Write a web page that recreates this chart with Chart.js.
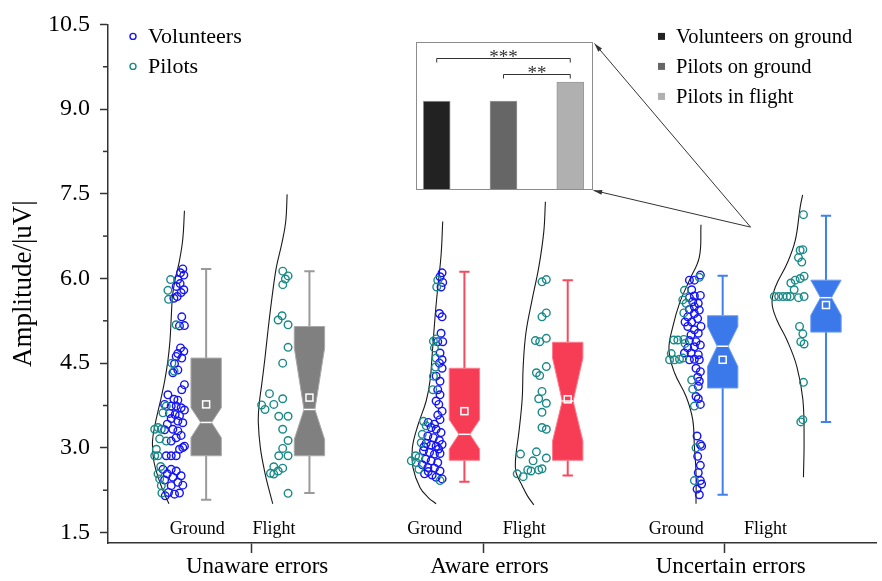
<!DOCTYPE html>
<html><head><meta charset="utf-8">
<script src="https://cdn.jsdelivr.net/npm/chart.js@4.4.1/dist/chart.umd.min.js"></script>
<style>
html,body{margin:0;padding:0;background:#fff;}
#wrap{position:relative;width:882px;height:581px;overflow:hidden;}
#main{position:absolute;left:0;top:0;}
#inset{position:absolute;left:0;top:0;}
</style></head><body>
<div id="wrap"><canvas id="main" width="882" height="581"></canvas><canvas id="inset" width="10" height="10"></canvas></div>
<script>
// ---------------- DATA ----------------
const groupNames = ['Unaware errors', 'Aware errors', 'Uncertain errors'];
const groupTickPos = [1.385, 3.635, 5.97];
const conditionNames = ['Ground', 'Flight', 'Ground', 'Flight', 'Ground', 'Flight'];
const conditionLabelPos = [0.865, 1.606, 3.163, 4.03, 5.5, 6.365];
const yTicks = [1.5, 3.0, 4.5, 6.0, 7.5, 9.0, 10.5];
const yMinorTicks = [2.25, 3.75, 5.25, 6.75, 8.25, 9.75];

// box plot summary per condition (Unaware G/F, Aware G/F, Uncertain G/F)
const boxPos      = [0.95, 1.95, 3.45, 4.45, 5.95, 6.95];
const whiskerLow  = [2.08, 2.20, 2.40, 2.51, 2.17, 3.46];
const q1          = [2.86, 2.86, 2.78, 2.78, 4.06, 5.05];
const notchLow    = [3.18, 3.15, 2.98, 3.12, 4.44, 5.35];
const median      = [3.45, 3.68, 3.24, 3.83, 4.80, 5.66];
const notchHigh   = [3.71, 4.77, 3.50, 4.59, 5.15, 5.97];
const q3          = [4.59, 5.15, 4.41, 4.87, 5.34, 5.97];
const whiskerHigh = [6.17, 6.13, 6.12, 5.97, 6.05, 7.11];
const meanValue   = [3.77, 3.89, 3.65, 3.86, 4.56, 5.53];
const boxFill     = ['#808080','#808080','#f73d55','#f73d55','#3b78ea','#3b78ea'];
const boxEdge     = ['#a9a9a9','#a9a9a9','#ff7d8c','#ff7d8c','#6e9df2','#6e9df2'];
const whiskerCol  = ['#9a9a9a','#9a9a9a','#f8495f','#f8495f','#3f82ee','#3f82ee'];

// individual subjects [x jitter, amplitude]
const unawareGroundVolunteers = [[.724,6.17],[.702,6.10],[.734,6.06],[.676,5.98],[.698,5.91],[.66,5.86],[.734,5.80],[.708,5.75],[.67,5.68],[.638,5.65],
 [.714,5.32],[.692,5.16],[.74,5.165],[.702,4.77],[.734,4.71],[.676,4.67],[.66,4.62],[.714,4.59],[.644,4.49],[.676,4.38],[.628,4.33],
 [.74,4.12],[.714,4.03],[.58,3.94],[.638,3.86],[.676,3.845],[.548,3.77],[.612,3.74],[.66,3.74],[.708,3.71],[.74,3.67],[.596,3.61],[.65,3.59],
 [.692,3.57],[.612,3.52],[.676,3.475],[.724,3.445],[.574,3.42],[.628,3.33],[.676,3.30],[.548,3.32],[.708,3.22],[.66,3.18],[.612,3.12],
 [.724,3.005],[.74,3.03],[.692,2.975],[.66,2.86],[.564,2.86],[.612,2.86],[.532,2.62],[.612,2.62],[.66,2.59],[.574,2.54],[.708,2.506],
 [.628,2.48],[.548,2.43],[.676,2.39],[.724,2.34],[.612,2.33],[.586,2.21],[.644,2.18],[.692,2.20],[.554,2.15]];
const unawareGroundPilots = [[.606,5.98],[.58,5.79],[.586,5.63],[.66,5.18],[.618,4.50],[.64,4.36],[.564,3.74],[.532,3.62],[.484,3.36],[.516,3.33],
 [.452,3.33],[.50,3.16],[.564,3.12],[.468,2.975],[.452,2.86],[.484,2.86],[.51,2.67],[.484,2.54],[.5,2.45],[.516,2.33],[.522,2.20]];
const unawareFlightPilots = [[1.692,6.13],[1.743,6.045],[1.717,5.99],[1.692,5.89],[1.685,5.34],[1.647,5.265],[1.743,5.18],[1.743,4.78],[1.691,4.50],
 [1.563,3.96],[1.691,3.87],[1.487,3.76],[1.605,3.77],[1.52,3.68],[1.653,3.56],[1.743,3.56],[1.691,3.33],[1.743,3.13],[1.691,2.99],[1.653,2.86],
 [1.743,2.86],[1.605,2.665],[1.647,2.59],[1.691,2.64],[1.573,2.55],[1.605,2.535],[1.743,2.195]];
const awareGroundVolunteers = [[3.234,6.10],[3.214,6.03],[3.24,5.93],[3.224,5.85],[3.208,5.38],[3.234,5.32],[3.224,5.03],[3.24,4.88],[3.192,4.88],
 [3.214,4.68],[3.234,4.56],[3.208,4.50],[3.234,4.41],[3.176,4.27],[3.214,4.18],[3.192,4.03],[3.214,3.94],[3.176,3.83],[3.202,3.77],[3.234,3.65],
 [3.192,3.58],[3.214,3.50],[3.10,3.45],[3.16,3.42],[3.128,3.36],[3.176,3.33],[3.224,3.27],[3.096,3.21],[3.15,3.18],[3.208,3.13],[3.08,3.08],
 [3.128,3.05],[3.176,3.03],[3.234,3.06],[3.06,3.02],[3.2,2.98],[3.054,2.95],[3.112,2.92],[3.16,2.89],[3.214,2.90],[3.074,2.80],[3.128,2.77],
 [3.192,2.74],[3.042,2.70],[3.096,2.65],[3.16,2.64],[3.214,2.59],[3.1,2.58],[3.064,2.54],[3.138,2.52],[3.234,2.45],[3.176,2.48]];
const awareGroundPilots = [[3.192,5.97],[3.182,5.85],[3.15,4.89],[3.176,4.93],[3.16,4.77],[3.176,4.59],[3.17,4.43],[3.15,4.27],[3.144,4.03],
 [3.054,3.47],[3.08,3.39],[3.042,3.24],[3.032,3.09],[2.978,2.86],[3.01,2.83],[2.936,2.77],[2.984,2.74],[3.01,2.62],[3.214,2.42]];
const awareFlightPilots = [[4.243,5.98],[4.201,5.94],[4.243,5.39],[4.201,5.32],[4.137,4.90],[4.179,4.88],[4.243,4.94],[4.147,4.33],[4.179,4.28],
 [4.243,4.44],[4.201,4.00],[4.169,3.87],[4.243,3.79],[4.201,3.63],[4.201,3.36],[4.243,3.33],[3.993,2.89],[4.147,2.93],[4.115,2.77],[4.243,2.82],
 [3.961,2.54],[4.019,2.49],[4.063,2.61],[4.095,2.59],[4.169,2.61],[4.201,2.63]];
const uncertainGroundVolunteers = [[5.734,6.06],[5.676,5.97],[5.628,5.97],[5.65,5.80],[5.676,5.69],[5.734,5.70],[5.628,5.66],[5.66,5.59],[5.714,5.56],
 [5.676,5.50],[5.628,5.45],[5.724,5.44],[5.676,5.38],[5.612,5.32],[5.708,5.29],[5.586,5.23],[5.65,5.23],[5.74,5.15],[5.612,5.15],[5.676,5.09],
 [5.714,5.03],[5.644,5.00],[5.628,4.90],[5.692,4.88],[5.734,4.82],[5.612,4.77],[5.676,4.79],[5.58,4.68],[5.644,4.68],[5.714,4.65],[5.628,4.56],
 [5.676,4.57],[5.724,4.56],[5.692,4.41],[5.734,4.35],[5.708,4.25],[5.724,4.18],[5.714,4.09],[5.692,3.91],[5.714,3.87],[5.734,3.77],[5.702,3.21],
 [5.734,3.06],[5.746,3.03],[5.708,2.85],[5.734,2.69],[5.714,2.56],[5.734,2.42],[5.702,2.27],[5.724,2.17],[5.746,2.36]];
const uncertainGroundPilots = [[5.724,6.02],[5.58,5.79],[5.564,5.62],[5.596,5.56],[5.574,5.39],[5.478,4.91],[5.516,4.91],[5.574,4.92],[5.586,4.85],
 [5.452,4.67],[5.436,4.56],[5.484,4.56],[5.532,4.57],[5.564,4.59],[5.65,4.20],[5.66,4.04],[5.676,3.74],[5.692,3.00],[5.676,2.42]];
const uncertainFlightPilots = [[6.732,7.13],[6.726,6.51],[6.7,6.50],[6.684,6.37],[6.716,6.29],[6.738,6.04],[6.7,6.00],[6.652,5.97],[6.61,5.92],
 [6.642,5.80],[6.45,5.68],[6.492,5.68],[6.534,5.68],[6.572,5.68],[6.604,5.68],[6.684,5.66],[6.738,5.68],[6.694,5.15],[6.726,5.02],[6.738,4.84],
 [6.706,4.88],[6.732,4.16],[6.726,3.50],[6.706,3.46]];

// half-violin density outlines [x, amplitude]
const unawareGroundCurve = [[.740,7.20],[.724,6.70],[.69,6.30],[.652,6.0],[.625,5.7],[.612,5.3],[.60,4.9],[.58,4.55],[.55,4.2],[.51,3.85],[.46,3.45],[.43,3.1],[.445,2.75],[.50,2.40],[.55,2.17],[.59,2.01]];
const unawareFlightCurve = [[1.734,7.49],[1.72,7.0],[1.68,6.6],[1.63,6.2],[1.59,5.7],[1.55,5.1],[1.52,4.6],[1.49,4.15],[1.462,3.75],[1.455,3.45],[1.475,3.0],[1.52,2.55],[1.56,2.25],[1.595,2.01]];
const awareGroundCurve = [[3.24,7.01],[3.224,6.41],[3.19,5.8],[3.165,5.3],[3.14,4.7],[3.118,4.2],[3.08,3.83],[3.0,3.40],[2.946,3.0],[2.952,2.65],[3.02,2.30],[3.10,2.12],[3.176,2.01]];
const awareFlightCurve = [[4.234,7.36],[4.218,6.82],[4.17,6.2],[4.105,5.62],[4.045,5.03],[4.019,4.44],[4.009,3.86],[3.977,3.27],[3.945,2.80],[3.95,2.56],[4.009,2.33],[4.06,2.15],[4.122,1.99]];
const uncertainGroundCurve = [[5.74,6.95],[5.724,6.38],[5.628,5.97],[5.532,5.56],[5.468,5.15],[5.43,4.74],[5.484,4.33],[5.596,3.91],[5.66,3.50],[5.676,3.03],[5.692,2.56],[5.692,2.01]];
const uncertainFlightCurve = [[6.724,7.48],[6.70,7.26],[6.652,6.67],[6.572,6.26],[6.46,5.85],[6.428,5.56],[6.476,5.26],[6.572,4.91],[6.668,4.44],[6.726,3.86],[6.738,3.15],[6.732,2.48]];

// inset bar chart
const insetCategories = ['Volunteers on ground', 'Pilots on ground', 'Pilots in flight'];
const insetValues = [6.0, 6.0, 7.3];
const insetColors = ['#222222', '#666666', '#b0b0b0'];
const insetSig = [{from:0, to:2, level:8.93, label:'***'}, {from:1, to:2, level:7.81, label:'**'}];
const groupLegend = ['Volunteers', 'Pilots'];

// layout constants (not data)
const insetBox = {xMin:2.985, xMax:4.69, yMin:7.56, yMax:10.18};
const arrowApex = {x:6.22, y:6.91};
const boxWidth = 0.294, capWidth = 0.1, notchDepth = 0.32;
const FONT = "'Liberation Serif','Times New Roman',serif";
const COL_VOL = '#1414f5', COL_PIL = '#1a8a88';

const toPts = a => a.map(p => ({x:p[0], y:p[1]}));
const curveDs = c => ({data: toPts(c), showLine:true, pointRadius:0, borderColor:'#1a1a1a', borderWidth:1.1, tension:0.4, order:5, fill:false});

const volunteers = [].concat(unawareGroundVolunteers, awareGroundVolunteers, uncertainGroundVolunteers);
const pilots = [].concat(unawareGroundPilots, unawareFlightPilots, awareGroundPilots, awareFlightPilots, uncertainGroundPilots, uncertainFlightPilots);

const boxPlugin = {
  id: 'boxes',
  afterDatasetsDraw(chart) {
    const {ctx, scales:{x, y}} = chart;
    ctx.save();
    boxPos.forEach((cx, i) => {
      const px = x.getPixelForValue(cx);
      const L = x.getPixelForValue(cx - boxWidth/2), R = x.getPixelForValue(cx + boxWidth/2);
      const inset = (R - L) * notchDepth;
      const cL = x.getPixelForValue(cx - capWidth/2), cR = x.getPixelForValue(cx + capWidth/2);
      // whiskers
      ctx.strokeStyle = whiskerCol[i]; ctx.lineWidth = 2;
      ctx.beginPath();
      ctx.moveTo(px, y.getPixelForValue(q3[i])); ctx.lineTo(px, y.getPixelForValue(whiskerHigh[i]));
      ctx.moveTo(cL, y.getPixelForValue(whiskerHigh[i])); ctx.lineTo(cR, y.getPixelForValue(whiskerHigh[i]));
      ctx.moveTo(px, y.getPixelForValue(q1[i])); ctx.lineTo(px, y.getPixelForValue(whiskerLow[i]));
      ctx.moveTo(cL, y.getPixelForValue(whiskerLow[i])); ctx.lineTo(cR, y.getPixelForValue(whiskerLow[i]));
      ctx.stroke();
      // notched box
      const yq3 = y.getPixelForValue(q3[i]), ynh = y.getPixelForValue(notchHigh[i]), ym = y.getPixelForValue(median[i]);
      const ynl = y.getPixelForValue(notchLow[i]), yq1 = y.getPixelForValue(q1[i]);
      ctx.beginPath();
      ctx.moveTo(L, yq3); ctx.lineTo(R, yq3); ctx.lineTo(R, ynh); ctx.lineTo(R - inset, ym); ctx.lineTo(R, ynl);
      ctx.lineTo(R, yq1); ctx.lineTo(L, yq1); ctx.lineTo(L, ynl); ctx.lineTo(L + inset, ym); ctx.lineTo(L, ynh); ctx.closePath();
      ctx.fillStyle = boxFill[i]; ctx.fill();
      ctx.strokeStyle = boxEdge[i]; ctx.lineWidth = 1; ctx.stroke();
      // median
      ctx.strokeStyle = '#ffffff'; ctx.lineWidth = 1.5;
      ctx.beginPath(); ctx.moveTo(L + inset, ym); ctx.lineTo(R - inset, ym); ctx.stroke();
      // mean
      const my = y.getPixelForValue(meanValue[i]);
      ctx.lineWidth = 1.5; ctx.strokeRect(px - 3.5, my - 3.5, 7, 7);
    });
    // condition labels
    ctx.fillStyle = '#000'; ctx.font = '18px ' + FONT; ctx.textAlign = 'center'; ctx.textBaseline = 'middle';
    conditionNames.forEach((t, i) => ctx.fillText(t, x.getPixelForValue(conditionLabelPos[i]), y.getPixelForValue(1.56)));
    // minor y ticks
    ctx.strokeStyle = '#333'; ctx.lineWidth = 1.5;
    yMinorTicks.forEach(v => { const py = y.getPixelForValue(v); ctx.beginPath(); ctx.moveTo(x.left - 5, py); ctx.lineTo(x.left, py); ctx.stroke(); });
    // legend (top-left)
    const ca = chart.chartArea;
    ctx.textAlign = 'left'; ctx.font = '22px ' + FONT;
    [COL_VOL, COL_PIL].forEach((c, i) => {
      const cy = ca.top + 12 + i * 30;
      ctx.strokeStyle = c; ctx.lineWidth = 1.4;
      ctx.beginPath(); ctx.arc(ca.left + 25, cy, 3, 0, Math.PI * 2); ctx.stroke();
      ctx.fillStyle = '#000'; ctx.fillText(groupLegend[i], ca.left + 40, cy + 1);
    });
    // legend (top-right)
    ctx.font = '20.5px ' + FONT;
    insetCategories.forEach((t, i) => {
      const cy = ca.top + 12 + i * 30;
      ctx.fillStyle = insetColors[i]; ctx.fillRect(658, cy - 3.5, 7, 7);
      ctx.fillStyle = '#000'; ctx.fillText(t, 676, cy + 1);
    });
    // connector arrows
    const ax = x.getPixelForValue(arrowApex.x), ay = y.getPixelForValue(arrowApex.y);
    const corners = [[x.getPixelForValue(insetBox.xMax) + 2, y.getPixelForValue(insetBox.yMax) + 1], [x.getPixelForValue(insetBox.xMax) + 1, y.getPixelForValue(insetBox.yMin)]];
    ctx.strokeStyle = '#333'; ctx.fillStyle = '#333'; ctx.lineWidth = 1;
    corners.forEach(([tx, ty]) => {
      ctx.beginPath(); ctx.moveTo(ax, ay); ctx.lineTo(tx, ty); ctx.stroke();
      const ang = Math.atan2(ty - ay, tx - ax);
      ctx.beginPath(); ctx.moveTo(tx, ty);
      ctx.lineTo(tx - 9 * Math.cos(ang - 0.28), ty - 9 * Math.sin(ang - 0.28));
      ctx.lineTo(tx - 9 * Math.cos(ang + 0.28), ty - 9 * Math.sin(ang + 0.28));
      ctx.closePath(); ctx.fill();
    });
    ctx.restore();
  }
};

const mainChart = new Chart(document.getElementById('main'), {
  type: 'scatter',
  data: {
    datasets: [
      {label:'Pilots', data: toPts(pilots), pointRadius:3.8, borderWidth:1.4, borderColor:COL_PIL, backgroundColor:'rgba(0,0,0,0)', order:0},
      {label:'Volunteers', data: toPts(volunteers), pointRadius:3.8, borderWidth:1.4, borderColor:COL_VOL, backgroundColor:'rgba(0,0,0,0)', order:1},
      curveDs(unawareGroundCurve), curveDs(unawareFlightCurve), curveDs(awareGroundCurve),
      curveDs(awareFlightCurve), curveDs(uncertainGroundCurve), curveDs(uncertainFlightCurve)
    ]
  },
  options: {
    responsive: false, animation: false, devicePixelRatio: 1, events: [],
    layout: {padding: {top: 18, right: 0, left: 0, bottom: 0}},
    plugins: {legend: {display:false}, tooltip: {enabled:false}},
    scales: {
      x: {
        type: 'linear', min: 0, max: 7.44,
        afterBuildTicks: s => { s.ticks = groupTickPos.map(v => ({value: v})); },
        ticks: {callback: (v, i) => groupNames[i], font: {family: FONT, size: 23}, color: '#000', padding: 0, labelOffset: 6, autoSkip: false, maxRotation: 0},
        grid: {display: true, drawOnChartArea: false, tickLength: 10, tickColor: '#333', tickWidth: 1.5},
        border: {color: '#333', width: 1.5},
        afterFit: s => { s.height = 38; }
      },
      y: {
        type: 'linear', min: 1.315, max: 10.5,
        afterBuildTicks: s => { s.ticks = yTicks.map(v => ({value: v})); },
        ticks: {callback: v => Number(v).toFixed(1), font: {family: FONT, size: 24}, color: '#000', padding: 10, autoSkip: false},
        grid: {display: true, drawOnChartArea: false, tickLength: 8, tickColor: '#333', tickWidth: 1.5},
        border: {color: '#333', width: 1.5},
        title: {display: true, text: 'Amplitude/|uV|', font: {family: FONT, size: 27}, color: '#000', padding: {top: 8, bottom: 0}},
        afterFit: s => { s.width = 108; }
      }
    }
  },
  plugins: [boxPlugin]
});

// ------- inset bar chart, placed through the main chart's scales -------
const mx = mainChart.scales.x, my = mainChart.scales.y;
const iL = Math.round(mx.getPixelForValue(insetBox.xMin)), iR = Math.round(mx.getPixelForValue(insetBox.xMax));
const iT = Math.round(my.getPixelForValue(insetBox.yMax)), iB = Math.round(my.getPixelForValue(insetBox.yMin));
const ic = document.getElementById('inset');
ic.width = iR - iL; ic.height = iB - iT;
ic.style.left = iL + 'px'; ic.style.top = iT + 'px';

const insetPlugin = {
  id: 'insetDecor',
  afterDatasetsDraw(chart) {
    const {ctx, scales:{x, y}} = chart;
    ctx.save();
    ctx.strokeStyle = '#8c8c8c'; ctx.lineWidth = 1;
    ctx.strokeRect(0.5, 0.5, chart.width - 1, chart.height - 1);
    ctx.strokeStyle = '#333'; ctx.fillStyle = '#333'; ctx.lineWidth = 1;
    ctx.font = '19px ' + FONT; ctx.textAlign = 'center'; ctx.textBaseline = 'alphabetic';
    insetSig.forEach(s => {
      const xl = x.getPixelForValue(s.from), xr = x.getPixelForValue(s.to), yy = Math.round(y.getPixelForValue(s.level)) + 0.5;
      ctx.beginPath(); ctx.moveTo(xl, yy + 4); ctx.lineTo(xl, yy); ctx.lineTo(xr, yy); ctx.lineTo(xr, yy + 4); ctx.stroke();
      ctx.fillText(s.label, (xl + xr) / 2, yy + 4);
    });
    ctx.restore();
  }
};

new Chart(ic, {
  type: 'bar',
  data: {datasets: [{data: insetValues.map((v, i) => ({x: i, y: v})), backgroundColor: insetColors, borderColor: '#9a9a9a', borderWidth: 1, barThickness: 27}]},
  options: {
    responsive: false, animation: false, devicePixelRatio: 1, events: [],
    layout: {padding: 0},
    plugins: {legend: {display: false}, tooltip: {enabled: false}},
    scales: {
      x: {type: 'linear', min: -0.31, max: 2.34, display: false, offset: false},
      y: {type: 'linear', min: 0, max: 10, display: false}
    }
  },
  plugins: [insetPlugin]
});
</script>
</body></html>
